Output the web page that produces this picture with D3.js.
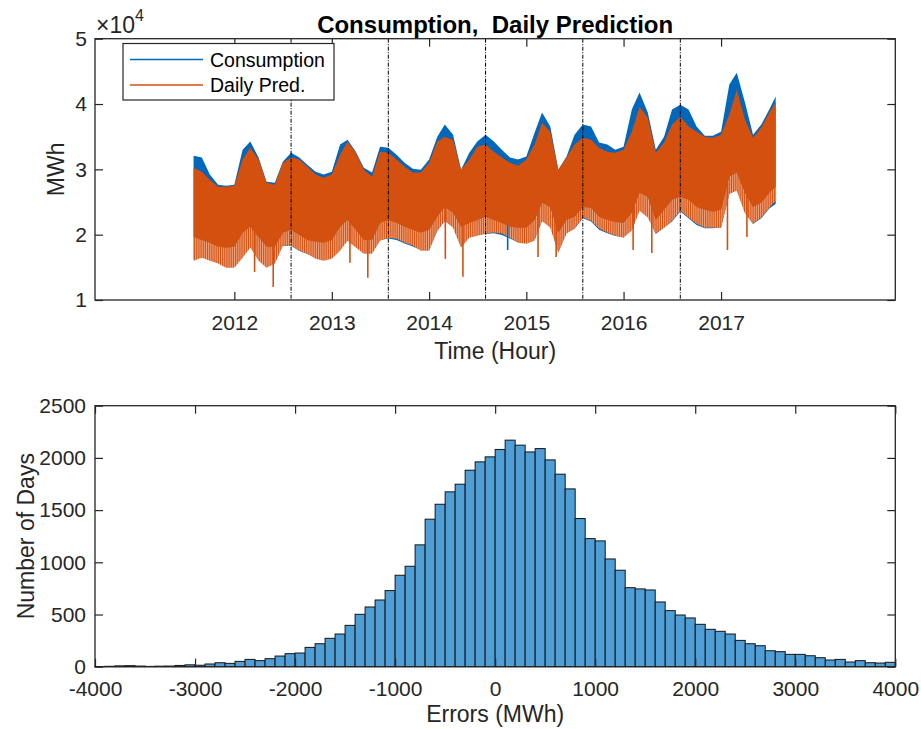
<!DOCTYPE html>
<html>
<head>
<meta charset="utf-8">
<script src="https://cdn.jsdelivr.net/npm/d3@7"></script>
<style>
  body { margin: 0; background: #fff; }
  svg text { font-family: "Liberation Sans", Arial, Helvetica, sans-serif; fill: #262626; white-space: pre; }
</style>
</head>
<body>
<svg id="fig" width="921" height="729"></svg>
<script>
// ---- hourly consumption vs daily prediction: monthly envelopes (MWh) ----
const sampleDates = [
  "2011-08-01","2011-09-01","2011-10-01","2011-11-01","2011-12-01",
  "2012-01-01","2012-02-01","2012-03-01","2012-04-01","2012-05-01","2012-06-01","2012-07-01",
  "2012-08-01","2012-09-01","2012-10-01","2012-11-01","2012-12-01",
  "2013-01-01","2013-02-01","2013-03-01","2013-04-01","2013-05-01","2013-06-01","2013-07-01",
  "2013-08-01","2013-09-01","2013-10-01","2013-11-01","2013-12-01",
  "2014-01-01","2014-02-01","2014-03-01","2014-04-01","2014-05-01","2014-06-01","2014-07-01",
  "2014-08-01","2014-09-01","2014-10-01","2014-11-01","2014-12-01",
  "2015-01-01","2015-02-01","2015-03-01","2015-04-01","2015-05-01","2015-06-01","2015-07-01",
  "2015-08-01","2015-09-01","2015-10-01","2015-11-01","2015-12-01",
  "2016-01-01","2016-02-01","2016-03-01","2016-04-01","2016-05-01","2016-06-01","2016-07-01",
  "2016-08-01","2016-09-01","2016-10-01","2016-11-01","2016-12-01",
  "2017-01-01","2017-02-01","2017-03-01","2017-04-01","2017-05-01","2017-06-01","2017-07-01",
  "2017-07-25"
];
// daily peaks of the measured consumption
const consumptionHigh = [
  32100,31800,29200,27650,27500,
  27650,33000,34250,31800,28100,27950,31150,
  32550,31800,30700,29650,29200,
  29650,33800,34550,32700,30250,29500,33450,
  33300,32250,31000,30100,29950,
  31500,35000,36850,35300,29950,32550,34250,
  35300,34250,33000,31800,31500,
  31950,35600,38700,36550,29950,31950,35300,
  36850,36550,34100,33800,33000,
  33450,39150,41750,38700,33000,35000,39150,
  39900,39150,36550,35150,35150,
  35750,43000,44800,40200,35300,36850,39150,
  41150
];
// nightly lows of the measured consumption
const consumptionLow = [
  16150,16600,16150,15700,15050,
  15050,16600,18150,16150,15050,15700,18300,
  18300,17500,17050,16450,16150,
  16450,17650,19200,18150,17200,17200,19200,
  19400,19200,18650,18200,17650,
  17650,20600,22100,21200,18150,19650,19950,
  20100,20200,19950,19400,18800,
  18750,19200,22100,21200,17350,20300,20900,
  22500,22000,20750,20200,19800,
  19650,20750,23800,22750,20100,21100,22000,
  23550,22500,21500,21000,21000,
  21100,26250,26850,23350,21650,22500,24000,
  24700
];
// daily peaks of the prediction
const predictionHigh = [
  30250,29650,28400,27350,27350,
  27500,31500,33300,31500,27950,27650,31000,
  31800,31500,30400,29200,28700,
  29200,32250,34250,32550,29950,28850,32700,
  32550,31500,30400,29500,29500,
  31000,34250,35000,34550,29950,31500,33450,
  33800,32700,31800,31000,30550,
  31500,33800,37150,35750,29950,31800,33800,
  34850,34550,33300,32700,32550,
  33000,35750,39600,37900,32550,34100,36850,
  38050,36550,35750,35000,34850,
  35300,38400,42200,37600,34850,36400,38700,
  40200
];
// prediction lows on working days
const predictionWeekdayLow = [
  19650,19200,18750,18150,18000,
  18150,20300,21200,19650,18150,18150,20300,
  20750,19950,19200,18900,18750,
  19200,21200,22250,20750,19200,19200,21800,
  22250,21800,21200,20750,20300,
  20750,22750,24250,23350,21200,21800,22250,
  22750,22250,21800,21200,21050,
  21050,22250,24900,24250,20300,22250,22750,
  24250,24100,22750,22250,21950,
  21800,23350,26400,25800,22250,23800,25350,
  25800,25350,24250,23800,23500,
  23800,28850,29500,26400,24250,24900,26400,
  27350
];
// prediction lows on weekends
const predictionLow = [
  16150,16600,16150,15700,15050,
  15050,16600,18150,16150,15050,15700,18450,
  18450,17650,17200,16450,16150,
  16450,17650,19200,18150,17200,17200,19200,
  19650,19500,18900,18450,17650,
  17650,20750,22250,21200,18150,19650,19950,
  20300,20450,20300,19650,18900,
  18750,19200,22250,21200,17350,20300,21050,
  22750,22250,21050,20450,19950,
  19650,20750,23800,22750,20300,21200,22250,
  23800,22750,21800,21200,21200,
  21200,26400,26850,23350,21800,22750,24250,
  25350
];
// holiday dips
const dipDates  = ["2012-03-17","2012-05-26","2013-03-10","2013-05-16","2014-03-03","2014-05-08",
                   "2014-10-23","2015-02-14","2015-04-23","2016-02-06","2016-04-16","2017-01-25","2017-04-08"];
const dipValues = [14300,12000,15700,13400,16300,13550,17650,16600,16600,17650,17200,17650,19650];
const dipSeries = ["pred","pred","pred","pred","pred","pred","cons","pred","pred","pred","pred","pred","pred"];

// yearly train/test split markers and axis ticks
const splitDates = ["2012-08-01","2013-08-01","2014-08-01","2015-08-01","2016-08-01"];
const yearTicks  = ["2012-01-01","2013-01-01","2014-01-01","2015-01-01","2016-01-01","2017-01-01"];
const mwhTicks   = [10000,20000,30000,40000,50000];

// ---- histogram of daily prediction errors ----
const binStart = -4000, binWidth = 100;
const dayCounts = [
  2,4,8,10,6,3,5,6,12,18,
  14,26,38,32,51,70,58,77,102,125,
  131,185,220,272,313,396,502,572,639,729,
  876,962,1167,1413,1556,1675,1748,1882,1962,2010,
  2081,2170,2122,2057,2089,1981,1844,1703,1419,1227,
  1205,1032,924,757,745,735,620,537,495,467,
  406,358,339,313,252,220,201,153,144,118,
  118,105,86,64,70,45,58,38,35,42
];
const errorTicks = [-4000,-3000,-2000,-1000,0,1000,2000,3000,4000];
const countTicks = [0,500,1000,1500,2000,2500];

// ---- styling ----
const BLUE = "#0067bb", ORANGE = "#d4500f", LIGHT_ORANGE = "#f2ad8a";
const BAR = "#4f9fd6", AX = "#262626";
const TICK_FS = 21;

const parse = d3.timeParse("%Y-%m-%d");
const svg = d3.select("#fig");
const defs = svg.append("defs");

const rows = sampleDates.map((d, i) => ({
  date: parse(d),
  cHi: consumptionHigh[i], cLo: consumptionLow[i],
  pHi: predictionHigh[i], pBase: predictionWeekdayLow[i], pLo: predictionLow[i]
}));

// ================= top panel =================
const T = { l: 95, r: 895.3, t: 38.7, b: 300 };
const x = d3.scaleTime().domain([parse("2010-07-27"), parse("2018-10-17")]).range([T.l, T.r]);
const y = d3.scaleLinear().domain([10000, 50000]).range([T.b, T.t]);

defs.append("clipPath").attr("id", "clipTop")
  .append("rect").attr("x", T.l).attr("y", T.t).attr("width", T.r - T.l).attr("height", T.b - T.t);

// weekly stripe texture for the weekend lows
const wk = x(d3.timeDay.offset(rows[0].date, 7)) - x(rows[0].date);
const pat = defs.append("pattern").attr("id", "weeks").attr("patternUnits", "userSpaceOnUse")
  .attr("width", wk).attr("height", 4);
pat.append("rect").attr("width", wk).attr("height", 4).attr("fill", LIGHT_ORANGE);
pat.append("rect").attr("width", wk * 0.55).attr("height", 4).attr("fill", ORANGE);

const gTop = svg.append("g").attr("clip-path", "url(#clipTop)");

gTop.append("path").datum(rows)
  .attr("fill", BLUE)
  .attr("d", d3.area().x(d => x(d.date)).y0(d => y(d.cLo)).y1(d => y(d.cHi)));

gTop.append("path").datum(rows)
  .attr("fill", "url(#weeks)")
  .attr("d", d3.area().x(d => x(d.date)).y0(d => y(d.pLo) + 0.8).y1(d => y(d.pBase) - 0.5));

// dips: short spikes below the band
const bis = d3.bisector(d => d.date).left;
function baseAt(date) {
  const i = Math.max(1, Math.min(rows.length - 1, bis(rows, date)));
  const a = rows[i - 1], b = rows[i];
  const t = (date - a.date) / (b.date - a.date);
  return a.pBase + (b.pBase - a.pBase) * t;
}
gTop.selectAll("line.dip").data(dipDates.map((d, i) => ({ date: parse(d), v: dipValues[i], s: dipSeries[i] })))
  .join("line").attr("class", "dip")
  .attr("x1", d => x(d.date)).attr("x2", d => x(d.date))
  .attr("y1", d => y(d.v)).attr("y2", d => y(baseAt(d.date)) - 2)
  .attr("stroke", d => d.s === "cons" ? BLUE : ORANGE).attr("stroke-width", 1.6);

gTop.append("path").datum(rows)
  .attr("fill", ORANGE)
  .attr("d", d3.area().x(d => x(d.date)).y0(d => y(d.pBase)).y1(d => y(d.pHi)));

// split markers
svg.append("g").selectAll("line").data(splitDates.map(parse)).join("line")
  .attr("x1", d => x(d)).attr("x2", d => x(d)).attr("y1", y.range()[1]).attr("y2", y.range()[0])
  .attr("stroke", "#000").attr("stroke-width", 1).attr("stroke-dasharray", "4,1.5,1,1.5");

// axes with inward ticks on all four sides
function styleAxis(g) {
  g.select(".domain").remove();
  g.selectAll(".tick line").attr("stroke", AX).attr("stroke-width", 1.2);
  g.selectAll(".tick text").attr("font-size", TICK_FS).attr("fill", AX)
    .style("font-family", "'Liberation Sans', Arial, sans-serif");
}
const plain = d => String(d);
const yearDates = yearTicks.map(parse);
svg.append("g").attr("transform", `translate(0,${T.b})`)
  .call(d3.axisBottom(x).tickValues(yearDates).tickFormat(d3.timeFormat("%Y")).tickSizeInner(-8).tickSizeOuter(0).tickPadding(15))
  .call(styleAxis);
svg.append("g").attr("transform", `translate(0,${T.t})`)
  .call(d3.axisTop(x).tickValues(yearDates).tickFormat("").tickSizeInner(-8).tickSizeOuter(0))
  .call(styleAxis);
svg.append("g").attr("transform", `translate(${T.l},0)`)
  .call(d3.axisLeft(y).tickValues(mwhTicks).tickFormat(d => plain(d / 1e4)).tickSizeInner(-8).tickSizeOuter(0).tickPadding(8))
  .call(styleAxis);
svg.append("g").attr("transform", `translate(${T.r},0)`)
  .call(d3.axisRight(y).tickValues(mwhTicks).tickFormat("").tickSizeInner(-8).tickSizeOuter(0))
  .call(styleAxis);
svg.append("rect").attr("x", T.l).attr("y", T.t).attr("width", T.r - T.l).attr("height", T.b - T.t)
  .attr("fill", "none").attr("stroke", AX).attr("stroke-width", 1.3);

// exponent marker
const ex = svg.append("text").attr("x", T.l + 1).attr("y", 33).attr("font-size", 23);
ex.append("tspan").attr("font-size", 23).text("\u00d710");
ex.append("tspan").attr("dy", -12).attr("font-size", 16).text("4");

// title and labels
svg.append("text").attr("x", (T.l + T.r) / 2).attr("y", 33).attr("text-anchor", "middle")
  .attr("font-size", 24).attr("font-weight", "bold").style("fill", "#000")
  .text("Consumption,  Daily Prediction");
svg.append("text").attr("x", (T.l + T.r) / 2).attr("y", 359).attr("text-anchor", "middle")
  .attr("font-size", 23).text("Time (Hour)");
svg.append("text").attr("transform", `translate(64,${(T.t + T.b) / 2}) rotate(-90)`)
  .attr("text-anchor", "middle").attr("font-size", 23).text("MWh");

// legend
const lg = svg.append("g");
lg.append("rect").attr("x", 123).attr("y", 43.5).attr("width", 211).attr("height", 56.5)
  .attr("fill", "#fff").attr("stroke", AX).attr("stroke-width", 1.2);
[["Consumption", BLUE, 59.5], ["Daily Pred.", ORANGE, 85]].forEach(([label, col, ly]) => {
  lg.append("line").attr("x1", 130).attr("x2", 203).attr("y1", ly).attr("y2", ly)
    .attr("stroke", col).attr("stroke-width", 1.4);
  lg.append("text").attr("x", 210).attr("y", ly).attr("dy", "0.36em")
    .attr("font-size", 19.5).style("fill", "#000").text(label);
});

// ================= bottom panel =================
const B = { l: 95, r: 895.3, t: 405.7, b: 666.7 };
const xh = d3.scaleLinear().domain([-4000, 4000]).range([B.l, B.r]);
const yh = d3.scaleLinear().domain([0, 2500]).range([B.b, B.t]);

const bins = dayCounts.map((c, i) => ({ x0: binStart + i * binWidth, x1: binStart + (i + 1) * binWidth, n: c }));
svg.append("g").selectAll("rect").data(bins).join("rect")
  .attr("x", d => xh(d.x0)).attr("width", d => xh(d.x1) - xh(d.x0))
  .attr("y", d => yh(d.n)).attr("height", d => yh(0) - yh(d.n))
  .attr("fill", BAR).attr("stroke", "#141414").attr("stroke-width", 1);

svg.append("g").attr("transform", `translate(0,${B.b})`)
  .call(d3.axisBottom(xh).tickValues(errorTicks).tickFormat(plain).tickSizeInner(-8).tickSizeOuter(0).tickPadding(14))
  .call(styleAxis);
svg.append("g").attr("transform", `translate(0,${B.t})`)
  .call(d3.axisTop(xh).tickValues(errorTicks).tickFormat("").tickSizeInner(-8).tickSizeOuter(0))
  .call(styleAxis);
svg.append("g").attr("transform", `translate(${B.l},0)`)
  .call(d3.axisLeft(yh).tickValues(countTicks).tickFormat(plain).tickSizeInner(-8).tickSizeOuter(0).tickPadding(9))
  .call(styleAxis);
svg.append("g").attr("transform", `translate(${B.r},0)`)
  .call(d3.axisRight(yh).tickValues(countTicks).tickFormat("").tickSizeInner(-8).tickSizeOuter(0))
  .call(styleAxis);
svg.append("rect").attr("x", B.l).attr("y", B.t).attr("width", B.r - B.l).attr("height", B.b - B.t)
  .attr("fill", "none").attr("stroke", AX).attr("stroke-width", 1.3);

svg.append("text").attr("x", (B.l + B.r) / 2).attr("y", 722).attr("text-anchor", "middle")
  .attr("font-size", 23).text("Errors (MWh)");
svg.append("text").attr("transform", `translate(34,${(B.t + B.b) / 2}) rotate(-90)`)
  .attr("text-anchor", "middle").attr("font-size", 23).text("Number of Days");
</script>
</body>
</html>
